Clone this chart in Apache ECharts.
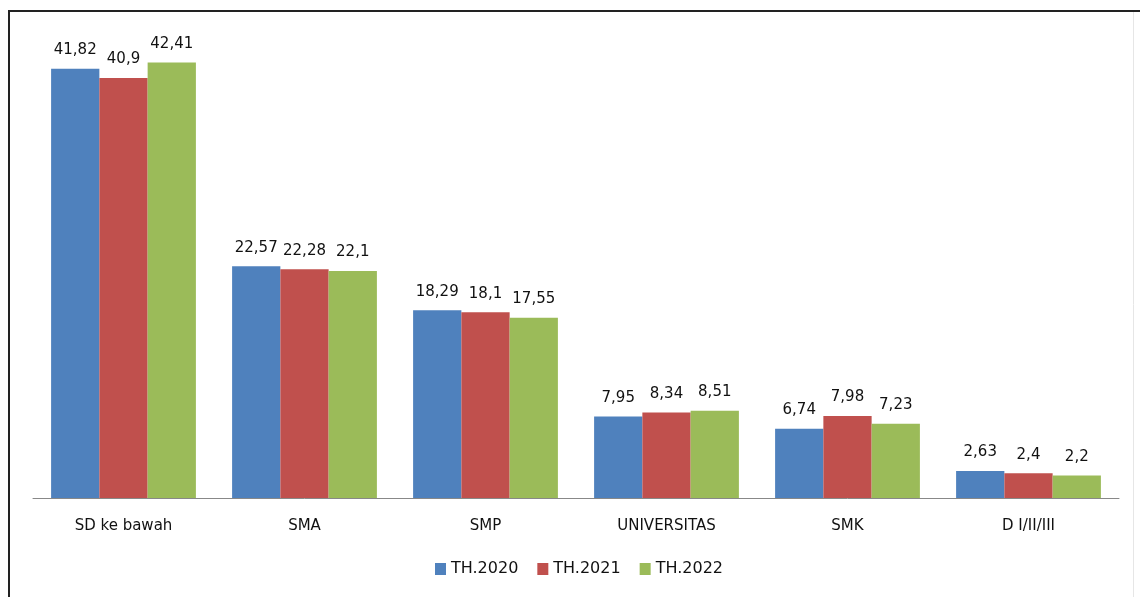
<!DOCTYPE html>
<html><head><meta charset="utf-8">
<script src="https://cdn.jsdelivr.net/npm/echarts@6/dist/echarts.min.js"></script>
<style>html,body{margin:0;padding:0;background:#fff}#c{width:1140px;height:597px}</style>
</head><body><div id="c"></div>
<script>
const categories = ['SD ke bawah','SMA','SMP','UNIVERSITAS','SMK','D I/II/III'];
const seriesNames = ['TH.2020','TH.2021','TH.2022'];
const th2020 = [41.82, 22.57, 18.29, 7.95, 6.74, 2.63];
const th2021 = [40.9, 22.28, 18.1, 8.34, 7.98, 2.4];
const th2022 = [42.41, 22.1, 17.55, 8.51, 7.23, 2.2];
const colors = ['#4F81BD','#C0504D','#9BBB59'];
const font = 'DejaVu Sans';
const chart = echarts.init(document.getElementById('c'));
const fmt = p => String(p.value).replace('.', ',');
const mk = (name, data, color) => ({
  name, type:'bar', data, barGap:'0%', barCategoryGap:'20%',
  itemStyle:{color},
  label:{show:true, position:'top', distance:11, formatter:fmt, color:'#111', fontFamily:font, fontSize:15}
});
chart.setOption({
  animation:false,
  grid:{left:33, right:21, top:36, bottom:99},
  legend:{bottom:15, left:430, padding:5, icon:'rect', itemWidth:11, itemHeight:12, itemGap:19,
    textStyle:{fontFamily:font, fontSize:16, color:'#111'},
    data:seriesNames},
  xAxis:{type:'category', data:categories,
    axisLine:{lineStyle:{color:'#888', width:1}}, axisTick:{show:false},
    axisLabel:{fontFamily:font, fontSize:15, color:'#111', margin:21}},
  yAxis:{type:'value', min:0, max:45, show:false, splitLine:{show:false}},
  series:[mk(seriesNames[0], th2020, colors[0]), mk(seriesNames[1], th2021, colors[1]), mk(seriesNames[2], th2022, colors[2])],
  graphic:[
    {type:'line', shape:{x1:8, y1:11, x2:1140, y2:11}, style:{stroke:'#222', lineWidth:2}},
    {type:'line', shape:{x1:9, y1:10, x2:9, y2:597}, style:{stroke:'#222', lineWidth:2}},
    {type:'line', shape:{x1:1133.5, y1:12, x2:1133.5, y2:597}, style:{stroke:'#e6e6e6', lineWidth:1}}
  ]
});
</script></body></html>
